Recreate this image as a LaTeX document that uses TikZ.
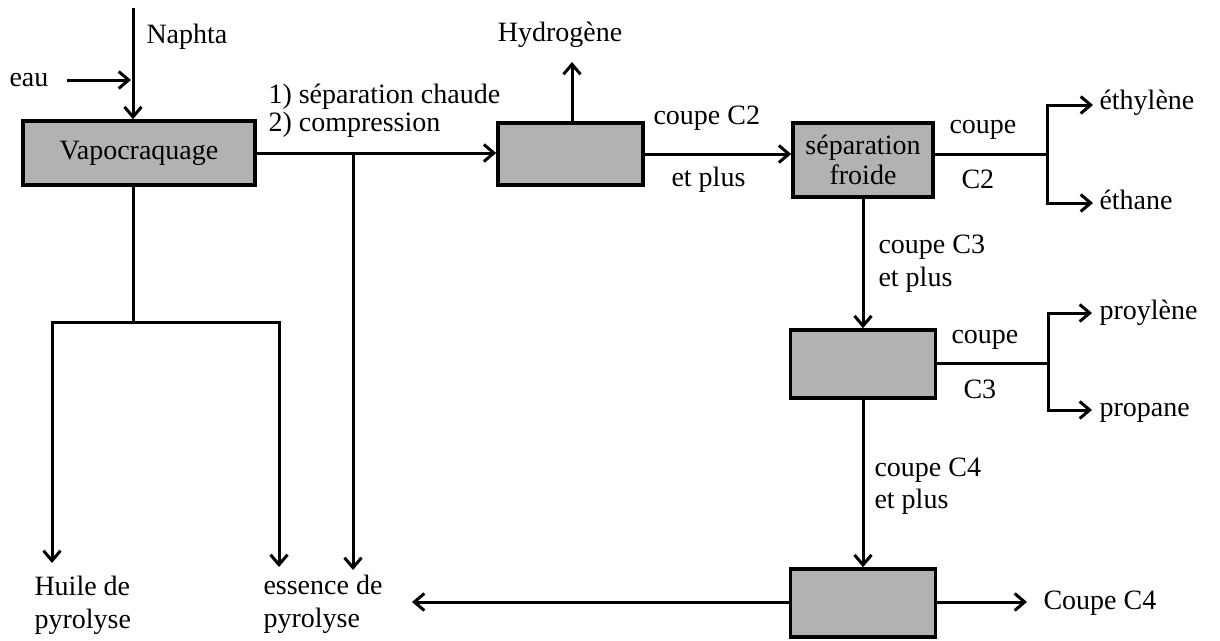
\documentclass[tikz,border=0pt]{standalone}
\usepackage{fontspec}
\setmainfont{Liberation Serif}
\usetikzlibrary{arrows.meta}
\begin{document}
\begin{tikzpicture}[x=1pt,y=-1pt,
  font=\fontsize{28}{33}\selectfont,
  line width=3pt,
  arr/.style={-{Straight Barb[length=10pt,width=17pt]}},
  unit/.style={draw=black,line width=3.6pt,fill=black!30,inner sep=0pt,align=center},
  lbl/.style={inner sep=0pt,text height=19pt,text depth=6pt,anchor=west},
  mlbl/.style={inner sep=0pt,align=left,anchor=west}]
\useasboundingbox (0,0) rectangle (1220,640);
% units
\node[unit,minimum width=232pt,minimum height=64pt] (vap) at (139,153) {Vapocraquage};
\node[unit,minimum width=145pt,minimum height=62pt] (b2) at (570.5,154) {};
\node[unit,minimum width=140pt,minimum height=74pt] (b3) at (863,160) {séparation\\[-3pt]froide};
\node[unit,minimum width=145pt,minimum height=68pt] (b4) at (863,364) {};
\node[unit,minimum width=145pt,minimum height=68pt] (b5) at (863,603) {};
% coordinates
\coordinate (ntop) at (133,8);
\coordinate (eaus) at (67,80);
\coordinate (eaue) at (131,80);
\coordinate (j1) at (353,153);
\coordinate (j1e) at (353,570);
\coordinate (h2) at (572,62);
\coordinate (j3) at (1047,154);
\coordinate (j3a) at (1047,105);
\coordinate (j3b) at (1047,203);
\coordinate (j3ae) at (1093,105);
\coordinate (j3be) at (1093,203);
\coordinate (j4) at (1048,363);
\coordinate (j4a) at (1048,313);
\coordinate (j4b) at (1048,410);
\coordinate (j4ae) at (1092,313);
\coordinate (j4be) at (1092,410);
\coordinate (c4e) at (1027,602);
\coordinate (ess) at (412,602);
\coordinate (vj) at (133,322);
\coordinate (vl) at (52,322);
\coordinate (vr) at (279,322);
\coordinate (vle) at (52,563);
\coordinate (vre) at (279,567);
% labels
\node[lbl] (naphta) at (145,37) {Naphta};
\node[lbl] (eau) at (8,80) {eau};
\node[lbl] (sep) at (267,97) {1) séparation chaude};
\node[lbl] (comp) at (267,125) {2) compression};
\node[lbl,anchor=center] (hyd) at (560,35) {Hydrogène};
\node[lbl] (cc2) at (652,118) {coupe C2};
\node[lbl] (ep2) at (670,180) {et plus};
\node[lbl] (cp3a) at (948,127) {coupe};
\node[lbl] (cp3b) at (960,182) {C2};
\node[lbl] (eth) at (1098,103) {éthylène};
\node[lbl] (ethn) at (1098,203) {éthane};
\node[lbl] (cc3) at (877,247) {coupe C3};
\node[lbl] (ep3) at (877,280) {et plus};
\node[lbl] (cp4a) at (950,337) {coupe};
\node[lbl] (cp4b) at (962,392) {C3};
\node[lbl] (proy) at (1098,313) {proylène};
\node[lbl] (prop) at (1098,410) {propane};
\node[lbl] (cc4) at (873,470) {coupe C4};
\node[lbl] (ep4) at (873,502) {et plus};
\node[lbl] (c4) at (1042,603) {Coupe C4};
\node[mlbl] (huile) at (33,605) {Huile de\\pyrolyse};
\node[mlbl] (essence) at (262,604) {essence de\\pyrolyse};
% connectors
\draw[arr] (ntop) -- (ntop |- vap.north);
\draw[arr] (eaus) -- (eaue);
\draw[arr] (vap.east) -- (vap.east -| b2.west);
\draw[arr] (j1) -- (j1e);
\draw[arr] (h2 |- b2.north) -- (h2);
\draw[arr] (b2.east) -- (b2.east -| b3.west);
\draw (b3.east |- j3) -- (j3);
\draw[arr] (j3) -- (j3a) -- (j3ae);
\draw[arr] (j3) -- (j3b) -- (j3be);
\draw[arr] (b3.south) -- (b4.north);
\draw (b4.east |- j4) -- (j4);
\draw[arr] (j4) -- (j4a) -- (j4ae);
\draw[arr] (j4) -- (j4b) -- (j4be);
\draw[arr] (b4.south) -- (b5.north);
\draw[arr] (b5.east |- c4e) -- (c4e);
\draw[arr] (b5.west |- ess) -- (ess);
\draw (vap.south -| vj) -- (vj);
\draw[line cap=rect] (vl) -- (vr);
\draw[arr] (vl) -- (vle);
\draw[arr] (vr) -- (vre);
\end{tikzpicture}
\end{document}
